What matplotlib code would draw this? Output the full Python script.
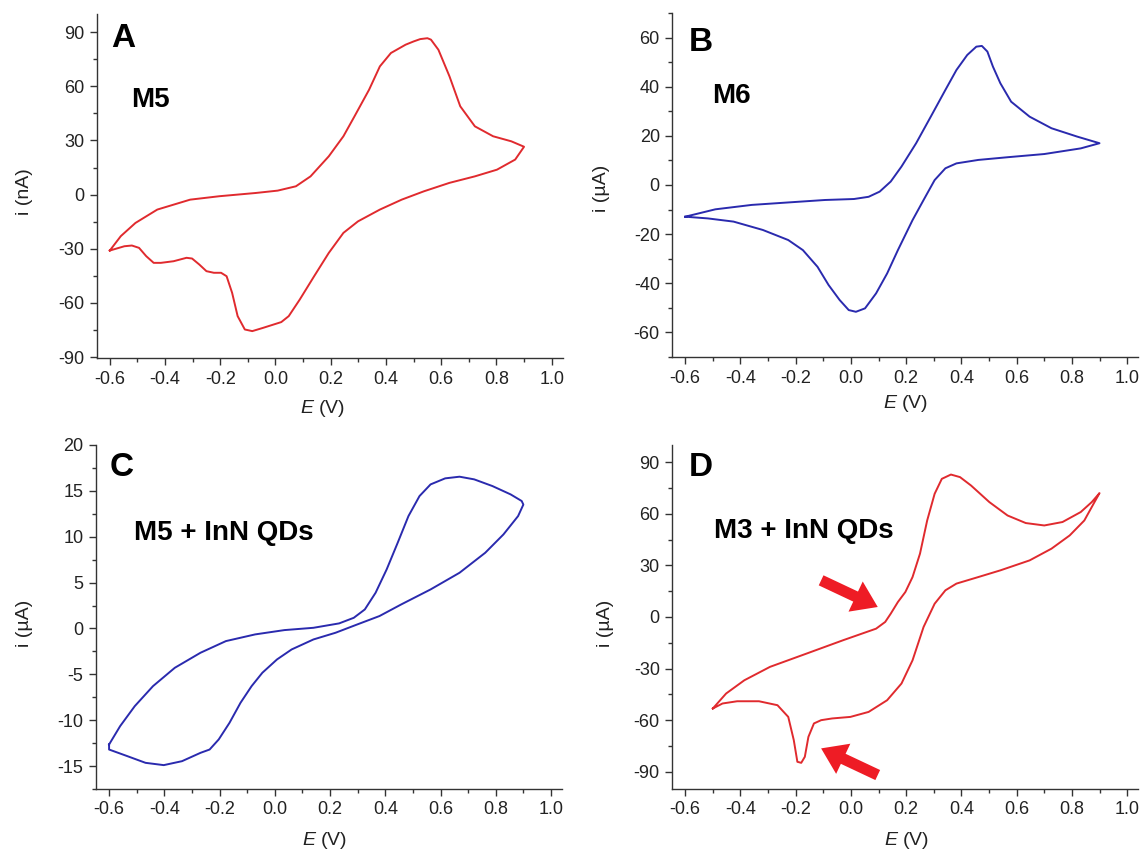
import matplotlib
matplotlib.use("Agg")
import matplotlib.pyplot as plt
from matplotlib.ticker import MultipleLocator

plt.rcParams['font.family'] = ['Liberation Sans', 'DejaVu Sans']
plt.rcParams['mathtext.fontset'] = 'custom'
plt.rcParams['mathtext.it'] = 'Liberation Sans:italic'
plt.rcParams['mathtext.rm'] = 'Liberation Sans'

RED = '#e02a2e'
BLUE = '#2a2aae'

# Panel A (M5), current in nA
a_E = [-0.6, -0.56, -0.507, -0.428, -0.309, -0.203, -0.071, 0.008, 0.074, 0.127, 0.193, 0.246,
       0.286, 0.339, 0.378, 0.418, 0.471, 0.5, 0.524, 0.55, 0.563, 0.59, 0.63, 0.669, 0.722, 0.788,
       0.854, 0.9,
       0.868, 0.802, 0.722, 0.63, 0.537, 0.457, 0.378, 0.299, 0.246, 0.193, 0.14, 0.088, 0.048,
       0.021, -0.045, -0.084, -0.111, -0.137, -0.157, -0.177, -0.197, -0.223, -0.25, -0.276,
       -0.302, -0.322, -0.369, -0.415, -0.441, -0.468, -0.494, -0.52, -0.547, -0.587, -0.6]
a_i = [-31, -23, -15.7, -8.3, -2.8, -0.9, 0.9, 2.2, 4.6, 10.1, 21.2, 32.3,
       43.3, 58.1, 71.0, 78.4, 83.0, 84.8, 86.1, 86.6, 85.8, 80.2, 65.5, 48.9, 37.8, 32.3,
       29.5, 26.5,
       19.4, 13.8, 10.1, 6.5, 1.8, -2.8, -8.3, -14.8, -21.2, -32.3, -45.2, -58.1, -67.3,
       -70.6, -73.8, -75.6, -74.7, -67.3, -54.4, -45.2, -43.3, -43.3, -42.4, -38.7,
       -35.4, -35.0, -36.9, -37.8, -37.8, -34.1, -29.5, -28.2, -28.6, -30.4, -31]

# Panel B (M6), current in uA
b_E = [-0.6, -0.491, -0.359, -0.227, -0.094, 0.011, 0.064, 0.104, 0.144, 0.183, 0.236, 0.289,
       0.342, 0.382, 0.421, 0.454, 0.474, 0.494, 0.514, 0.541, 0.58, 0.647, 0.726, 0.819, 0.9,
       0.832, 0.7, 0.567, 0.461, 0.382, 0.342, 0.303, 0.263, 0.223, 0.17, 0.131, 0.091, 0.051,
       0.018, -0.008, -0.041, -0.081, -0.121, -0.174, -0.227, -0.319, -0.425, -0.518, -0.6]
b_i = [-12.9, -9.9, -8.1, -7.1, -6.1, -5.7, -4.8, -2.7, 1.4, 7.5, 17.0, 27.8,
       38.7, 46.8, 52.9, 56.3, 56.6, 54.3, 48.2, 41.4, 33.9, 27.8, 23.1, 19.7, 17.0,
       14.9, 12.6, 11.3, 10.2, 8.8, 6.8, 2.0, -6.1, -14.3, -26.5, -36.0, -44.1, -50.2,
       -51.6, -50.9, -46.8, -40.7, -33.3, -26.5, -22.4, -18.3, -14.9, -13.6, -12.9]

# Panel C (M5 + InN QDs), current in uA
c_E = [-0.6, -0.56, -0.507, -0.441, -0.362, -0.269, -0.177, -0.071, 0.035, 0.14, 0.233, 0.286,
       0.326, 0.365, 0.405, 0.445, 0.484, 0.524, 0.564, 0.617, 0.669, 0.722, 0.788, 0.854,
       0.894, 0.9,
       0.881, 0.828, 0.762, 0.669, 0.564, 0.458, 0.379, 0.299, 0.22, 0.14, 0.061, 0.008,
       -0.045, -0.084, -0.124, -0.164, -0.203, -0.236, -0.269, -0.336, -0.402, -0.468,
       -0.534, -0.6, -0.6]
c_i = [-12.65, -10.65, -8.47, -6.29, -4.29, -2.65, -1.38, -0.65, -0.18, 0.07, 0.55, 1.16,
       2.07, 3.89, 6.43, 9.34, 12.25, 14.43, 15.7, 16.36, 16.54, 16.25, 15.52, 14.61,
       13.89, 13.5,
       12.25, 10.25, 8.25, 6.07, 4.25, 2.62, 1.35, 0.44, -0.47, -1.2, -2.29, -3.38,
       -4.83, -6.29, -8.1, -10.29, -12.1, -13.2, -13.56, -14.47, -14.9, -14.65,
       -13.92, -13.2, -12.65]

# Panel D (M3 + InN QDs), current in uA
d_E = [-0.5, -0.452, -0.386, -0.293, -0.161, -0.028, 0.091, 0.124, 0.144, 0.17, 0.197, 0.223,
       0.25, 0.276, 0.303, 0.329, 0.362, 0.395, 0.435, 0.501, 0.567, 0.633, 0.7, 0.766,
       0.832, 0.872, 0.9,
       0.885, 0.845, 0.792, 0.726, 0.647, 0.541, 0.461, 0.382, 0.342, 0.303, 0.263, 0.223,
       0.183, 0.131, 0.064, -0.002, -0.068, -0.108, -0.134, -0.154, -0.167, -0.18, -0.194,
       -0.207, -0.227, -0.266, -0.333, -0.412, -0.465, -0.5]
d_i = [-53.2, -44.5, -36.8, -29.0, -21.3, -13.5, -6.8, -2.9, 1.9, 8.7, 14.5, 23.2,
       36.8, 56.1, 71.6, 80.3, 82.8, 81.3, 76.4, 66.8, 59.0, 54.6, 53.2, 55.2,
       61.0, 66.8, 72.0,
       67.7, 56.1, 47.4, 39.7, 32.9, 27.1, 23.2, 19.4, 15.5, 7.7, -5.8, -25.2,
       -38.7, -48.4, -55.2, -58.1, -59.0, -60.0, -61.9, -69.7, -81.3, -84.8, -84.2,
       -71.6, -58.1, -51.3, -49.0, -49.0, -50.3, -53.2]

# annotation arrows in D: (tail E, tail i, head E, head i)
d_arrows = [(-0.108, 21.3, 0.097, 5.8), (0.097, -91.9, -0.108, -76.4)]

fig = plt.figure(figsize=(11.4, 8.49), dpi=100)

W = 0.4087
H = 0.4052
specs = [
    dict(rect=[0.0849, 0.5783, W, H], E=a_E, i=a_i, color=RED, ylim=(-90.5, 100),
         major=30, minor=15, ylabel='i (nA)', letter='A', label='M5',
         lpos=(0.031, 0.974), mpos=(0.0745, 0.788), ylc=(-0.137, 0.485), xlc=(0.485, -0.115)),
    dict(rect=[0.5897, 0.5795, W, H], E=b_E, i=b_i, color=BLUE, ylim=(-70, 70),
         major=20, minor=10, ylabel='i (\u00b5A)', letter='B', label='M6',
         lpos=(0.035, 0.959), mpos=(0.085, 0.797), ylc=(-0.133, 0.49), xlc=(0.50, -0.105)),
    dict(rect=[0.0843, 0.0707, W, H], E=c_E, i=c_i, color=BLUE, ylim=(-17.5, 20),
         major=5, minor=2.5, ylabel='i (\u00b5A)', letter='C', label='M5 + InN QDs',
         lpos=(0.029, 0.98), mpos=(0.082, 0.782), ylc=(-0.136, 0.48), xlc=(0.49, -0.118)),
    dict(rect=[0.5897, 0.0707, W, H], E=d_E, i=d_i, color=RED, ylim=(-100, 100),
         major=30, minor=15, ylabel='i (\u00b5A)', letter='D', label='M3 + InN QDs',
         lpos=(0.035, 0.98), mpos=(0.090, 0.788), ylc=(-0.124, 0.48), xlc=(0.503, -0.118)),
]

for s in specs:
    ax = fig.add_axes(s['rect'])
    ax.plot(s['E'], s['i'], color=s['color'], lw=1.4, solid_joinstyle='round')
    ax.set_xlim(-0.647, 1.04)
    ax.set_ylim(*s['ylim'])
    ax.xaxis.set_major_locator(MultipleLocator(0.2))
    ax.xaxis.set_minor_locator(MultipleLocator(0.1))
    ax.yaxis.set_major_locator(MultipleLocator(s['major']))
    ax.yaxis.set_minor_locator(MultipleLocator(s['minor']))
    ax.spines['top'].set_visible(False)
    ax.spines['right'].set_visible(False)
    for sp in ('left', 'bottom'):
        ax.spines[sp].set_linewidth(1.0)
        ax.spines[sp].set_color('#333333')
    ax.tick_params(which='major', direction='out', length=5, width=1.0, labelsize=13,
                   colors='#333333', labelcolor='#222222', pad=4)
    ax.tick_params(which='minor', direction='out', length=3, width=1.0, colors='#333333')
    ax.set_xticks([-0.6, -0.4, -0.2, 0.0, 0.2, 0.4, 0.6, 0.8, 1.0])
    ax.set_xticklabels(['-0.6', '-0.4', '-0.2', '0.0', '0.2', '0.4', '0.6', '0.8', '1.0'])
    yt = [t for t in ax.get_yticks() if s['ylim'][0] - 1e-9 <= t <= s['ylim'][1] + 1e-9]
    ax.set_yticks(yt)
    ax.set_yticklabels(['%g' % t for t in yt])
    ax.set_xlabel(r'$\mathit{E}$ (V)', fontsize=14, color='#222222')
    ax.set_ylabel(s['ylabel'], fontsize=14, color='#222222')
    ax.yaxis.set_label_coords(*s['ylc'])
    ax.xaxis.set_label_coords(*s['xlc'])
    ax.text(s['lpos'][0], s['lpos'][1], s['letter'], transform=ax.transAxes,
            fontsize=24, fontweight='bold', va='top', ha='left')
    ax.text(s['mpos'][0], s['mpos'][1], s['label'], transform=ax.transAxes,
            fontsize=20, fontweight='bold', va='top', ha='left')
    if s['letter'] == 'D':
        for (x0, y0, x1, y1) in d_arrows:
            ax.annotate('', xy=(x1, y1), xytext=(x0, y0),
                        arrowprops=dict(arrowstyle='simple,head_width=1.5,head_length=1.1,tail_width=0.5',
                                        mutation_scale=16, fc='#ee1c25', ec='none',
                                        shrinkA=0, shrinkB=0),
                        annotation_clip=False)

fig.savefig('out.png', dpi=100)
